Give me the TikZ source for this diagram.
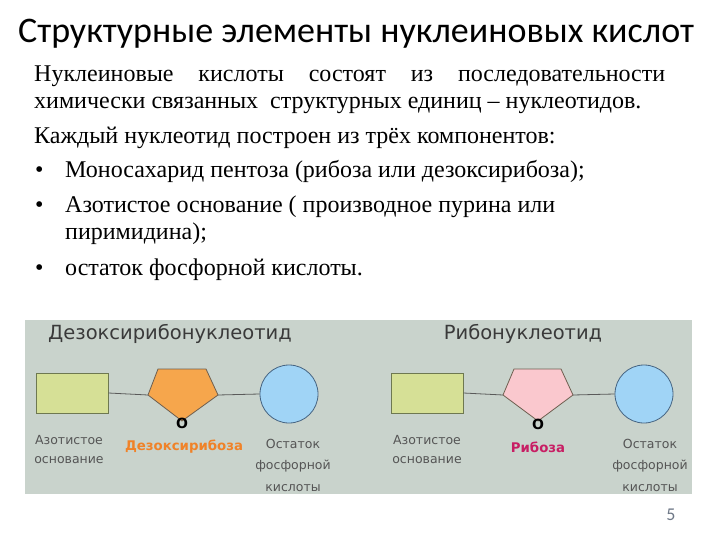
\documentclass[tikz,border=0pt]{standalone}
\usepackage{fontspec}
\setmainfont{Liberation Serif}
\newfontfamily\titlefont{Carlito}
\newfontfamily\dfont{DejaVu Sans}
\definecolor{bgdiag}{RGB}{201,211,204}
\definecolor{rectfill}{RGB}{214,224,150}
\definecolor{rectdraw}{RGB}{110,120,80}
\definecolor{orangefill}{RGB}{246,166,76}
\definecolor{pinkfill}{RGB}{250,200,206}
\definecolor{polydraw}{RGB}{110,95,80}
\definecolor{circfill}{RGB}{160,212,246}
\definecolor{circdraw}{RGB}{70,100,130}
\definecolor{headcol}{RGB}{58,58,58}
\definecolor{labcol}{RGB}{85,85,85}
\definecolor{deoxcol}{RGB}{240,130,40}
\definecolor{ribcol}{RGB}{200,30,100}
\definecolor{linecol}{RGB}{90,90,90}
\definecolor{pagecol}{RGB}{110,120,135}
\tikzset{
  bodyline/.style={anchor=base west, inner sep=0pt, font=\fontsize{24}{27}\selectfont},
  basebox/.style={draw=rectdraw, fill=rectfill, line width=0.8pt, minimum width=72pt, minimum height=40pt, inner sep=0pt},
  phosph/.style={circle, draw=circdraw, fill=circfill, line width=0.8pt, minimum size=58pt, inner sep=0pt},
  conn/.style={draw=linecol, line width=0.8pt},
  dhead/.style={font=\dfont\fontsize{19.5}{22}\selectfont, text=headcol, inner sep=0pt},
  dlab/.style={font=\dfont\fontsize{12.5}{21.5}\selectfont, text=labcol, align=center, inner sep=0pt},
  dlabb/.style={font=\dfont\fontsize{12.5}{19}\selectfont, text=labcol, align=center, inner sep=0pt},
  sugar/.style={font=\dfont\bfseries\fontsize{13.3}{15}\selectfont, inner sep=0pt},
  oxy/.style={font=\dfont\bfseries\fontsize{14}{14}\selectfont, inner sep=0pt}
}
\begin{document}
\begin{tikzpicture}[x=1pt,y=-1pt]
\useasboundingbox (0,0) rectangle (720,540);
\fill[white] (0,0) rectangle (720,540);
% title
\node[anchor=base west, inner sep=0pt, font=\titlefont\fontsize{36}{40}\selectfont] (title) at (18,43) {Структурные элементы нуклеиновых кислот};
% body
\node[bodyline] (l1) at (34,82) {\makebox[631pt][s]{Нуклеиновые\hfill кислоты\hfill состоят\hfill из\hfill последовательности}};
\node[bodyline] (l2) at (34,109) {химически связанных\ \ структурных единиц – нуклеотидов.};
\node[bodyline] (l3) at (34,144) {Каждый нуклеотид построен из трёх компонентов:};
\node[bodyline] (b1) at (35,178) {•};
\node[bodyline] (l4) at (65,178) {Моносахарид пентоза (рибоза или дезоксирибоза);};
\node[bodyline] (b2) at (35,212) {•};
\node[bodyline] (l5) at (65,212) {Азотистое основание ( производное пурина или};
\node[bodyline] (l6) at (65,240) {пиримидина);};
\node[bodyline] (b3) at (35,275) {•};
\node[bodyline] (l7) at (65,275) {остаток фосфорной кислоты.};
% diagram background
\fill[bgdiag] (25,320) rectangle (692,494);
% left panel
\node[dhead] (hl) at (170,334) {Дезоксирибонуклеотид};
\node[basebox] (nbl) at (72,393) {};
\coordinate (pl1) at (148,395);
\coordinate (pr1) at (218,395);
\fill[orangefill, draw=polydraw, line width=0.8pt] (158,369) -- (206,369) -- (pr1) -- (182,421) -- (pl1) -- cycle;
\node[phosph] (pc1) at (289,394) {};
\draw[conn] (nbl.east) -- (pl1);
\draw[conn] (pr1) -- (pc1.west);
\node[oxy] (o1) at (182,423) {O};
\node[dlabb] (tl1) at (69,450) {Азотистое\\основание};
\node[sugar, text=deoxcol] (sl1) at (184,447) {Дезоксирибоза};
\node[dlab] (ph1) at (293,465) {Остаток\\фосфорной\\кислоты};
% right panel
\node[dhead] (hr) at (523,334) {Рибонуклеотид};
\node[basebox] (nbr) at (427,393) {};
\coordinate (pl2) at (503,395);
\coordinate (pr2) at (573,395);
\fill[pinkfill, draw=polydraw, line width=0.8pt] (514,369) -- (561,369) -- (pr2) -- (538,421) -- (pl2) -- cycle;
\node[phosph] (pc2) at (644,394) {};
\draw[conn] (nbr.east) -- (pl2);
\draw[conn] (pr2) -- (pc2.west);
\node[oxy] (o2) at (538,424) {O};
\node[dlabb] (tl2) at (427,450) {Азотистое\\основание};
\node[sugar, text=ribcol] (sl2) at (538,447) {Рибоза};
\node[dlab] (ph2) at (650,465) {Остаток\\фосфорной\\кислоты};
% page number
\node[font=\titlefont\fontsize{18}{20}\selectfont, text=pagecol, inner sep=0pt] (pg) at (671,515) {5};
\end{tikzpicture}
\end{document}
